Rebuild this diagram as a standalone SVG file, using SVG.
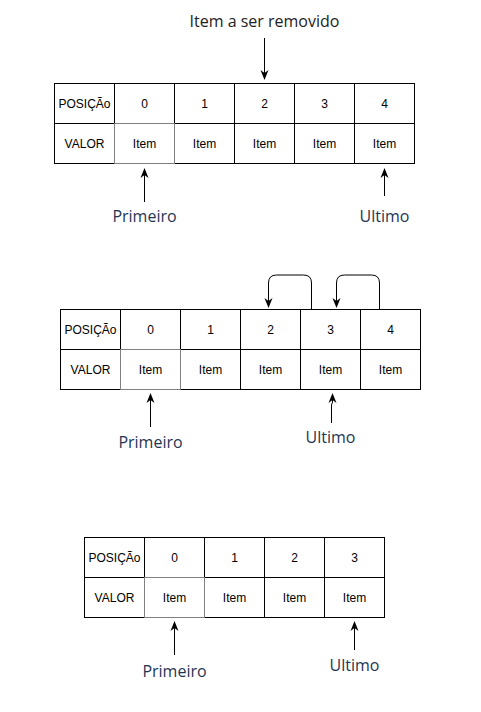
<svg xmlns="http://www.w3.org/2000/svg" width="481" height="712" viewBox="0 0 481 712">
<defs>
<marker id="ah" viewBox="0 0 10 10" refX="9" refY="5" markerWidth="10" markerHeight="10" markerUnits="userSpaceOnUse" orient="auto">
<path d="M0,1 L10,5 L0,9 L3,5 Z" fill="#000"/>
</marker>
</defs>
<style>
.c{fill:#fff;stroke:#000;stroke-width:1}
.g{fill:#fff;stroke:#808080;stroke-width:1}
.t{font-family:"Liberation Sans",Arial,sans-serif;font-size:12px;fill:#000;text-anchor:middle}
.l{font-family:"Open Sans","Noto Sans",sans-serif;font-size:16px;fill:#1f3552;text-anchor:middle}
.k{fill:#222}
.a{fill:none;stroke:#000;stroke-width:1;marker-end:url(#ah)}
</style>
<rect width="481" height="712" fill="#fff"/>

<g id="table1">
<rect class="c" x="54.5" y="83.5" width="60" height="40"/><text class="t" x="84.5" y="107.5">POSIÇÃo</text>
<rect class="c" x="114.5" y="83.5" width="60" height="40"/><text class="t" x="144.5" y="107.5">0</text>
<rect class="c" x="174.5" y="83.5" width="60" height="40"/><text class="t" x="204.5" y="107.5">1</text>
<rect class="c" x="234.5" y="83.5" width="60" height="40"/><text class="t" x="264.5" y="107.5">2</text>
<rect class="c" x="294.5" y="83.5" width="60" height="40"/><text class="t" x="324.5" y="107.5">3</text>
<rect class="c" x="354.5" y="83.5" width="60" height="40"/><text class="t" x="384.5" y="107.5">4</text>
<rect class="c" x="54.5" y="123.5" width="60" height="40"/><text class="t" x="84.5" y="147.5">VALOR</text>
<rect class="c" x="174.5" y="123.5" width="60" height="40"/><text class="t" x="204.5" y="147.5">Item</text>
<rect class="c" x="234.5" y="123.5" width="60" height="40"/><text class="t" x="264.5" y="147.5">Item</text>
<rect class="c" x="294.5" y="123.5" width="60" height="40"/><text class="t" x="324.5" y="147.5">Item</text>
<rect class="c" x="354.5" y="123.5" width="60" height="40"/><text class="t" x="384.5" y="147.5">Item</text>
<rect class="g" x="114.5" y="123.5" width="60" height="40"/><text class="t" x="144.5" y="147.5">Item</text>
</g>

<g id="table2">
<rect class="c" x="60.5" y="309.5" width="60" height="40"/><text class="t" x="90.5" y="333.5">POSIÇÃo</text>
<rect class="c" x="120.5" y="309.5" width="60" height="40"/><text class="t" x="150.5" y="333.5">0</text>
<rect class="c" x="180.5" y="309.5" width="60" height="40"/><text class="t" x="210.5" y="333.5">1</text>
<rect class="c" x="240.5" y="309.5" width="60" height="40"/><text class="t" x="270.5" y="333.5">2</text>
<rect class="c" x="300.5" y="309.5" width="60" height="40"/><text class="t" x="330.5" y="333.5">3</text>
<rect class="c" x="360.5" y="309.5" width="60" height="40"/><text class="t" x="390.5" y="333.5">4</text>
<rect class="c" x="60.5" y="349.5" width="60" height="40"/><text class="t" x="90.5" y="373.5">VALOR</text>
<rect class="c" x="180.5" y="349.5" width="60" height="40"/><text class="t" x="210.5" y="373.5">Item</text>
<rect class="c" x="240.5" y="349.5" width="60" height="40"/><text class="t" x="270.5" y="373.5">Item</text>
<rect class="c" x="300.5" y="349.5" width="60" height="40"/><text class="t" x="330.5" y="373.5">Item</text>
<rect class="c" x="360.5" y="349.5" width="60" height="40"/><text class="t" x="390.5" y="373.5">Item</text>
<rect class="g" x="120.5" y="349.5" width="60" height="40"/><text class="t" x="150.5" y="373.5">Item</text>
</g>

<g id="table3">
<rect class="c" x="84.5" y="537.5" width="60" height="40"/><text class="t" x="114.5" y="561.5">POSIÇÃo</text>
<rect class="c" x="144.5" y="537.5" width="60" height="40"/><text class="t" x="174.5" y="561.5">0</text>
<rect class="c" x="204.5" y="537.5" width="60" height="40"/><text class="t" x="234.5" y="561.5">1</text>
<rect class="c" x="264.5" y="537.5" width="60" height="40"/><text class="t" x="294.5" y="561.5">2</text>
<rect class="c" x="324.5" y="537.5" width="60" height="40"/><text class="t" x="354.5" y="561.5">3</text>
<rect class="c" x="84.5" y="577.5" width="60" height="40"/><text class="t" x="114.5" y="601.5">VALOR</text>
<rect class="c" x="204.5" y="577.5" width="60" height="40"/><text class="t" x="234.5" y="601.5">Item</text>
<rect class="c" x="264.5" y="577.5" width="60" height="40"/><text class="t" x="294.5" y="601.5">Item</text>
<rect class="c" x="324.5" y="577.5" width="60" height="40"/><text class="t" x="354.5" y="601.5">Item</text>
<rect class="g" x="144.5" y="577.5" width="60" height="40"/><text class="t" x="174.5" y="601.5">Item</text>
</g>

<g id="labels">
<text class="l k" x="264.5" y="27">Item a ser removido</text>
<text class="l" x="144.5" y="222">Primeiro</text>
<text class="l" x="384.5" y="222">Ultimo</text>
<text class="l" x="150.5" y="448">Primeiro</text>
<text class="l" x="330.5" y="443">Ultimo</text>
<text class="l" x="174.5" y="677">Primeiro</text>
<text class="l" x="354.5" y="671">Ultimo</text>
</g>

<g id="connectors">
<path class="a" d="M264.5,38 V79"/>
<path class="a" d="M144.5,202 V169"/>
<path class="a" d="M384.5,196 V169"/>
<path class="a" d="M311.5,309 V283 Q311.5,275 303.5,275 H276.5 Q268.5,275 268.5,283 V307"/>
<path class="a" d="M379.5,309 V283 Q379.5,275 371.5,275 H344.5 Q336.5,275 336.5,283 V307"/>
<path class="a" d="M150.5,427 V394"/>
<path class="a" d="M331.5,423 V405 L332.5,402 V394"/>
<path class="a" d="M174.5,655 V622"/>
<path class="a" d="M354.5,650 V622"/>
</g>
</svg>
